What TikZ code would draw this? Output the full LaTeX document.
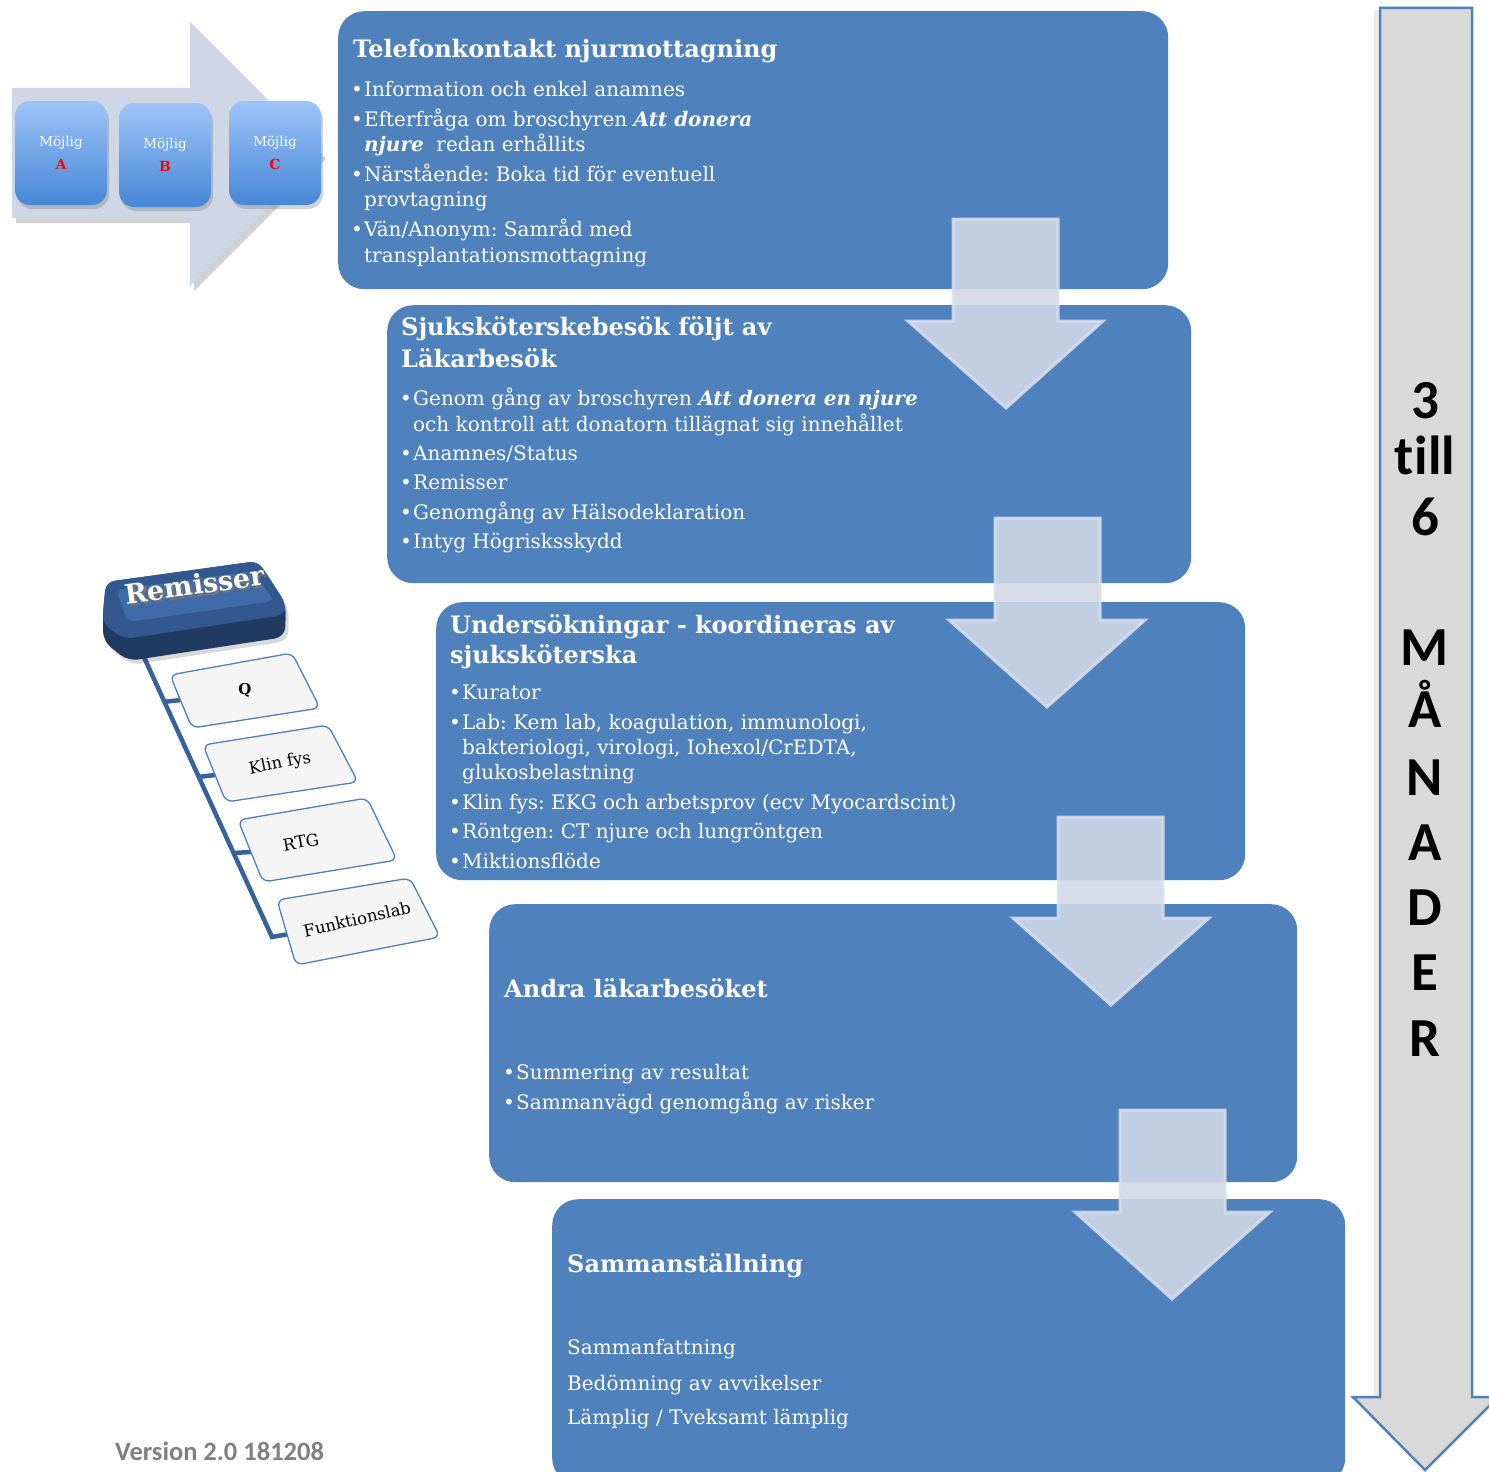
\documentclass[tikz,border=0pt]{standalone}
\usepackage{fontspec}
\setmainfont{DejaVu Serif}
\newfontfamily\sansbold{Carlito}[Ligatures=NoCommon]
\usetikzlibrary{shadows}
\definecolor{boxblue}{RGB}{79,129,189}
\definecolor{arrfill}{RGB}{209,216,230}
\definecolor{arredge}{RGB}{216,223,237}
\definecolor{rightfill}{RGB}{217,217,217}
\definecolor{chevfill}{RGB}{207,214,229}
\definecolor{mtop}{RGB}{158,196,249}
\definecolor{mbot}{RGB}{70,135,214}
\definecolor{remdark}{RGB}{33,58,97}
\definecolor{remmid}{RGB}{50,88,143}
\definecolor{remtop}{RGB}{63,108,168}
\definecolor{spinecol}{RGB}{56,98,158}
\definecolor{remboxfill}{RGB}{245,245,245}
\definecolor{verscol}{RGB}{128,128,128}
\newcommand\itembul{\makebox[13pt][l]{\textbullet}}
\newcommand\bi[1]{\textbf{\textit{#1}}}
\frenchspacing
\begin{document}
\begin{tikzpicture}[x=1pt,y=-1pt,
  stepbox/.style={fill=boxblue, rounded corners=26pt, draw=none, inner sep=0pt, anchor=north west},
  body/.style={anchor=base west, inner sep=0pt, text=white, font=\frenchspacing\fontsize{20}{24}\selectfont},
  head/.style={anchor=base west, inner sep=0pt, text=white, font=\bfseries\fontsize{24}{28}\selectfont},
  blockarr/.style={fill=arrfill, fill opacity=0.89, draw=arredge, draw opacity=0.85, line width=3pt},
  mbox/.style={rounded corners=15pt, minimum width=92pt, minimum height=104pt, top color=mtop, bottom color=mbot, draw=none, align=center, text=white, font=\fontsize{13.5}{23}\selectfont, drop shadow={shadow xshift=2pt, shadow yshift=-4pt, opacity=0.35}},
  remb/.style={fill=remboxfill, draw=boxblue, line width=1.3pt, rounded corners=7pt},
  remlbl/.style={font=\fontsize{16.5}{18}\selectfont, text=black, inner sep=0pt},
  spine/.style={draw=spinecol, line width=4.5pt},
  mlbl/.style={anchor=base, inner sep=0pt, text=black, font=\sansbold\bfseries\fontsize{55}{60}\selectfont}]
\useasboundingbox (0,0) rectangle (1489,1472);
\fill[white] (0,0) rectangle (1489,1472);

% ---- right time arrow ----
\fill[black, opacity=0.08] (1374,10) -- (1380,10) -- (1380,1397) -- (1353,1397) -- (1349,1399) -- (1374,1399) -- cycle;
\path[fill=rightfill, draw=boxblue, line width=2.5pt, line join=miter]
  (1380,8) -- (1472,8) -- (1472,1397) -- (1498,1397) -- (1425,1470) -- (1353,1397) -- (1380,1397) -- cycle;
\foreach \t/\yy [count=\i] in {3/418, t\kern0.5pt ill/474, 6/535, M/665, Å/727, N/795, A/860, D/925, E/990, R/1056}
  \node (mon\i) [mlbl] at (1425,\yy) {\t};

% ---- step boxes ----
\node (box1) [stepbox, minimum width=830pt, minimum height=278pt] at (338,11) {};
\node (box2) [stepbox, minimum width=804pt, minimum height=278pt] at (387,305) {};
\node (box3) [stepbox, minimum width=809pt, minimum height=278pt] at (436,602) {};
\node (box4) [stepbox, minimum width=808pt, minimum height=278pt] at (489,904) {};
\node (box5) [stepbox, minimum width=793pt, minimum height=285pt] at (552,1199) {};

% ---- box 1 text ----
\node (h1) [head] at (353,58) {Telefonkontakt njurmottagning};
\node (t1a) [body] at (351,96) {\itembul Information och enkel anamnes};
\node (t1b) [body] at (351,126) {\itembul Efterfråga om broschyren \bi{Att donera}};
\node (t1c) [body] at (364,151) {\bi{njure}\ \ redan erhållits};
\node (t1d) [body] at (351,181) {\itembul Närstående: Boka tid för eventuell};
\node (t1e) [body] at (364,206) {provtagning};
\node (t1f) [body] at (351,236) {\itembul Vän/Anonym: Samråd med};
\node (t1g) [body] at (364,262) {transplantationsmottagning};

% ---- box 2 text ----
\node (h2a) [head] at (401,335) {Sjuksköterskebesök följt av};
\node (h2b) [head] at (401,367) {Läkarbesök};
\node (t2a) [body] at (400,405) {\itembul Genom gång av broschyren \bi{Att donera en njure}};
\node (t2b) [body] at (413,431) {och kontroll att donatorn tillägnat sig innehållet};
\node (t2c) [body] at (400,460) {\itembul Anamnes/Status};
\node (t2d) [body] at (400,489) {\itembul Remisser};
\node (t2e) [body] at (400,519) {\itembul Genomgång av Hälsodeklaration};
\node (t2f) [body] at (400,548) {\itembul Intyg Högrisksskydd};

% ---- box 3 text ----
\node (h3a) [head] at (450,633) {Undersökningar - koordineras av};
\node (h3b) [head] at (450,663) {sjuksköterska};
\node (t3a) [body] at (449,699) {\itembul Kurator};
\node (t3b) [body] at (449,729) {\itembul Lab: Kem lab, koagulation, immunologi,};
\node (t3c) [body] at (462,754) {bakteriologi, virologi, Iohexol/CrEDTA,};
\node (t3d) [body] at (462,779) {glukosbelastning};
\node (t3e) [body] at (449,809) {\itembul Klin fys: EKG och arbetsprov (ecv Myocardscint)};
\node (t3f) [body] at (449,838) {\itembul Röntgen: CT njure och lungröntgen};
\node (t3g) [body] at (449,868) {\itembul Miktionsflöde};

% ---- box 4 text ----
\node (h4) [head] at (504,997) {Andra läkarbesöket};
\node (t4a) [body] at (503,1079) {\itembul Summering av resultat};
\node (t4b) [body] at (503,1109) {\itembul Sammanvägd genomgång av risker};

% ---- box 5 text ----
\node (h5) [head] at (567,1272) {Sammanställning};
\node (t5a) [body] at (567,1354) {Sammanfattning};
\node (t5b) [body] at (567,1390) {Bedömning av avvikelser};
\node (t5c) [body] at (567,1424) {Lämplig / Tveksamt lämplig};

% ---- block arrows between boxes ----
\path[blockarr] (953,219) -- (1058,219) -- (1058,321) -- (1103,321) -- (1006,408) -- (908,321) -- (953,321) -- cycle;
\path[blockarr] (995,518) -- (1100,518) -- (1100,620) -- (1145,620) -- (1047,707) -- (949,620) -- (995,620) -- cycle;
\path[blockarr] (1058,817) -- (1163,817) -- (1163,918) -- (1209,918) -- (1111,1005) -- (1013,918) -- (1058,918) -- cycle;
\path[blockarr] (1120,1110) -- (1225,1110) -- (1225,1212) -- (1270,1212) -- (1172,1299) -- (1075,1212) -- (1120,1212) -- cycle;

% ---- top-left chevron with options ----
\fill[black, opacity=0.18] (16,93) -- (194,93) -- (194,27) -- (326,159) -- (194,291) -- (194,223) -- (16,223) -- cycle;
\fill[chevfill] (12,88) -- (190,88) -- (190,22) -- (322,154) -- (190,286) -- (190,218) -- (12,218) -- cycle;
\node (mA) [mbox] at (61,153) {Möjlig\\{\color{red}\bfseries\fontsize{14}{16}\selectfont A}};
\node (mB) [mbox] at (165,155) {Möjlig\\{\color{red}\bfseries\fontsize{14}{16}\selectfont B}};
\node (mC) [mbox] at (275,153) {Möjlig\\{\color{red}\bfseries\fontsize{14}{16}\selectfont C}};

% ---- Remisser tree ----
\coordinate (sp0) at (143,655);
\coordinate (sp1) at (163,702);
\coordinate (sp2) at (198,777);
\coordinate (sp3) at (233,853);
\coordinate (sp4) at (272,937);
\coordinate (e1) at (181,700);
\coordinate (e2) at (215,775);
\coordinate (e3) at (251,852);
\coordinate (e4) at (289,934);
\draw[spine] (sp0) -- (sp4) -- (e4);
\draw[spine] (sp1) -- (e1);
\draw[spine] (sp2) -- (e2);
\draw[spine] (sp3) -- (e3);

\fill[black, opacity=0.15, rounded corners=10pt] (109,586) -- (261,565) -- (289,608) -- (288,641) -- (131,665) -- (106,645) -- (106,616) -- cycle;
\fill[remdark, rounded corners=10pt] (106,582) -- (258,561) -- (286,604) -- (285,637) -- (128,661) -- (103,641) -- (103,612) -- cycle;
\fill[remmid, rounded corners=8pt] (106,582) -- (258,561) -- (286,604) -- (284,615) -- (124,639) -- (103,624) -- (103,612) -- cycle;
\fill[remtop, rounded corners=6pt] (116,590) -- (253,571) -- (274,601) -- (128,622) -- cycle;
\node (rem) [rotate=8, font=\bfseries\fontsize{27}{30}\selectfont, text=white] at (195,586) {\rlap{\hspace{2pt}\raisebox{-3pt}{\color{black!55}Remisser}}Remisser};

\path[remb] (170,675) -- (292,653) -- (320,708) -- (192,728) -- cycle;
\path[remb] (203,745) -- (328,725) -- (358,782) -- (226,802) -- cycle;
\path[remb] (238,820) -- (367,798) -- (397,860) -- (263,882) -- cycle;
\path[remb] (277,900) -- (410,878) -- (440,937) -- (296,965) -- cycle;
\node (q) [remlbl, font=\bfseries\fontsize{15}{18}\selectfont] at (245,690) {Q};
\node (klin) [remlbl, rotate=11] at (280,764) {Klin fys};
\node (rtg) [remlbl, rotate=10] at (301,842) {RTG};
\node (funk) [remlbl, rotate=13] at (357,919) {Funktionslab};

% ---- version ----
\node (ver) [anchor=base west, inner sep=0pt, text=verscol, font=\sansbold\bfseries\fontsize{26.5}{30}\selectfont] at (115,1460) {Version 2.0 181208};
\end{tikzpicture}
\end{document}
